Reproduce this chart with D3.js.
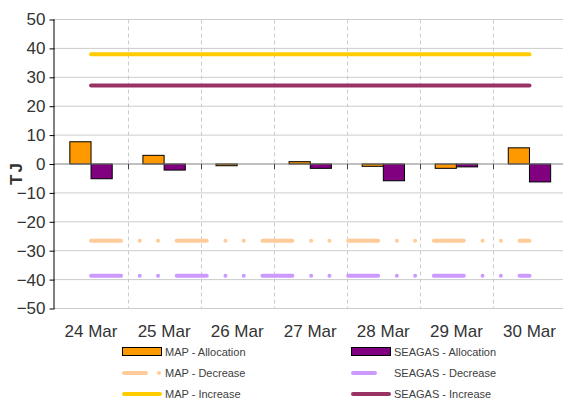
<!DOCTYPE html>
<html>
<head>
<meta charset="utf-8">
<script src="https://cdn.jsdelivr.net/npm/d3@7"></script>
<style>
    body { margin: 0; background: #fff; }
    svg { font-family: "Liberation Sans", Arial, sans-serif; }
</style>
</head>
<body>
<svg id="chart" width="563" height="401"></svg>
<script>
// chart values
const days = ["24 Mar", "25 Mar", "26 Mar", "27 Mar", "28 Mar", "29 Mar", "30 Mar"];
const mapAllocation = [7.7, 3.0, -0.6, 0.8, -0.8, -1.5, 5.6];
const seagasAllocation = [-5.1, -2.1, 0, -1.5, -5.8, -1.0, -6.2];
const mapIncrease = [38, 38, 38, 38, 38, 38, 38];
const seagasIncrease = [27.2, 27.2, 27.2, 27.2, 27.2, 27.2, 27.2];
const mapDecrease = [-26.6, -26.6, -26.6, -26.6, -26.6, -26.6, -26.6];
const seagasDecrease = [-38.7, -38.7, -38.7, -38.7, -38.7, -38.7, -38.7];
const yTicks = [50, 40, 30, 20, 10, 0, -10, -20, -30, -40, -50];

const svg = d3.select("#chart");
const plotLeft = 54.5, plotRight = 566, plotTop = 19.5, plotBottom = 308.5;

const x = d3.scaleBand().domain(days).range([plotLeft, plotRight]);
const y = d3.scaleLinear().domain([-50, 50]).range([plotBottom, plotTop]);

const textColor = "#333333";
const decreaseDash = "30,18.7,0,18.3,0,18.7";

// horizontal grid
svg.append("g")
    .selectAll("line")
    .data(yTicks.filter(d => d !== 0))
    .join("line")
    .attr("x1", plotLeft)
    .attr("x2", plotRight)
    .attr("y1", d => y(d))
    .attr("y2", d => y(d))
    .attr("stroke", "#cccccc")
    .attr("stroke-width", 1);

// vertical dashed grid between days
svg.append("g")
    .selectAll("line")
    .data(days.slice(1))
    .join("line")
    .attr("x1", d => Math.round(x(d)) + 0.5)
    .attr("x2", d => Math.round(x(d)) + 0.5)
    .attr("y1", plotTop)
    .attr("y2", plotBottom)
    .attr("stroke", "#cccccc")
    .attr("stroke-dasharray", "4,3");

// bars
const barW = x.bandwidth() * 0.29;
const bars = svg.append("g").attr("stroke", "#000").attr("stroke-width", 1);
[[mapAllocation, "#ff9900", -1], [seagasAllocation, "#800080", 0]].forEach(([vals, color, k]) => {
    bars.append("g")
        .selectAll("rect")
        .data(vals.map((v, i) => ({ day: days[i], v })).filter(d => d.v !== 0))
        .join("rect")
        .attr("x", d => x(d.day) + x.bandwidth() / 2 + k * barW)
        .attr("width", barW)
        .attr("y", d => y(Math.max(0, d.v)))
        .attr("height", d => Math.abs(y(d.v) - y(0)))
        .attr("fill", color);
});

// zero line with small ticks at band edges
svg.append("line")
    .attr("x1", plotLeft)
    .attr("x2", plotRight)
    .attr("y1", y(0))
    .attr("y2", y(0))
    .attr("stroke", "#808080");
svg.append("g")
    .selectAll("line")
    .data(days.slice(1))
    .join("line")
    .attr("x1", d => Math.round(x(d)) + 0.5)
    .attr("x2", d => Math.round(x(d)) + 0.5)
    .attr("y1", y(0))
    .attr("y2", y(0) + 5)
    .attr("stroke", "#404040");

// series lines
const line = d3.line()
    .x((d, i) => x(days[i]) + x.bandwidth() / 2)
    .y(d => y(d));
const series = [
    { vals: mapIncrease, color: "#ffcc00", dash: null },
    { vals: seagasIncrease, color: "#993366", dash: null },
    { vals: mapDecrease, color: "#ffcc99", dash: decreaseDash },
    { vals: seagasDecrease, color: "#cc99ff", dash: decreaseDash }
];
series.forEach(s => {
    svg.append("path")
        .datum(s.vals)
        .attr("d", line)
        .attr("fill", "none")
        .attr("stroke", s.color)
        .attr("stroke-width", 4)
        .attr("stroke-linecap", "round")
        .attr("stroke-dasharray", s.dash);
});

// y axis
const yAxis = svg.append("g")
    .attr("transform", `translate(${plotLeft},0)`)
    .call(d3.axisLeft(y).tickValues(yTicks).tickSize(5).tickPadding(4).tickFormat(d3.format("d")));
yAxis.select(".domain").attr("stroke", "#000").attr("d", `M-0.5,${plotTop}V${plotBottom}H0`);
yAxis.selectAll(".tick line").attr("stroke", "#000");
yAxis.selectAll(".tick text")
    .attr("fill", textColor)
    .attr("font-size", 17)
    .attr("font-family", "Liberation Sans, Arial, sans-serif");

// x labels
svg.append("g")
    .selectAll("text")
    .data(days)
    .join("text")
    .attr("x", d => x(d) + x.bandwidth() / 2)
    .attr("y", 337)
    .attr("text-anchor", "middle")
    .attr("font-size", 17)
    .attr("fill", textColor)
    .text(d => d);

// y title
svg.append("text")
    .attr("transform", "translate(22,173) rotate(-90)")
    .attr("text-anchor", "middle")
    .attr("font-size", 17)
    .attr("font-weight", "bold")
    .attr("letter-spacing", 2)
    .attr("fill", textColor)
    .text("TJ");

// legend
const legendItems = [
    { label: "MAP - Allocation", type: "rect", color: "#ff9900", col: 0, row: 0 },
    { label: "SEAGAS - Allocation", type: "rect", color: "#800080", col: 1, row: 0 },
    { label: "MAP - Decrease", type: "dash", color: "#ffcc99", col: 0, row: 1 },
    { label: "SEAGAS - Decrease", type: "dash", color: "#cc99ff", col: 1, row: 1 },
    { label: "MAP - Increase", type: "line", color: "#ffcc00", col: 0, row: 2 },
    { label: "SEAGAS - Increase", type: "line", color: "#993366", col: 1, row: 2 }
];
const colX = [122, 351];
const rowY = [352, 373, 394];
const legend = svg.append("g");
legendItems.forEach(it => {
    const g = legend.append("g").attr("transform", `translate(${colX[it.col]},${rowY[it.row]})`);
    if (it.type === "rect") {
        g.append("rect")
            .attr("x", 0.5).attr("y", -4.5)
            .attr("width", 39).attr("height", 8)
            .attr("fill", it.color)
            .attr("stroke", "#000").attr("stroke-width", 1);
    } else {
        g.append("line")
            .attr("x1", 2).attr("x2", 38)
            .attr("y1", 0).attr("y2", 0)
            .attr("stroke", it.color)
            .attr("stroke-width", 4)
            .attr("stroke-linecap", "round")
            .attr("stroke-dasharray", it.type === "dash" ? "22,200" : null);
        if (it.type === "dash" && it.col === 0) {
            g.append("circle").attr("cx", 37).attr("cy", 0).attr("r", 2).attr("fill", it.color);
        }
    }
    g.append("text")
        .attr("x", 43)
        .attr("y", 4)
        .attr("font-size", 11)
        .attr("fill", "#404040")
        .text(it.label);
});
</script>
</body>
</html>
